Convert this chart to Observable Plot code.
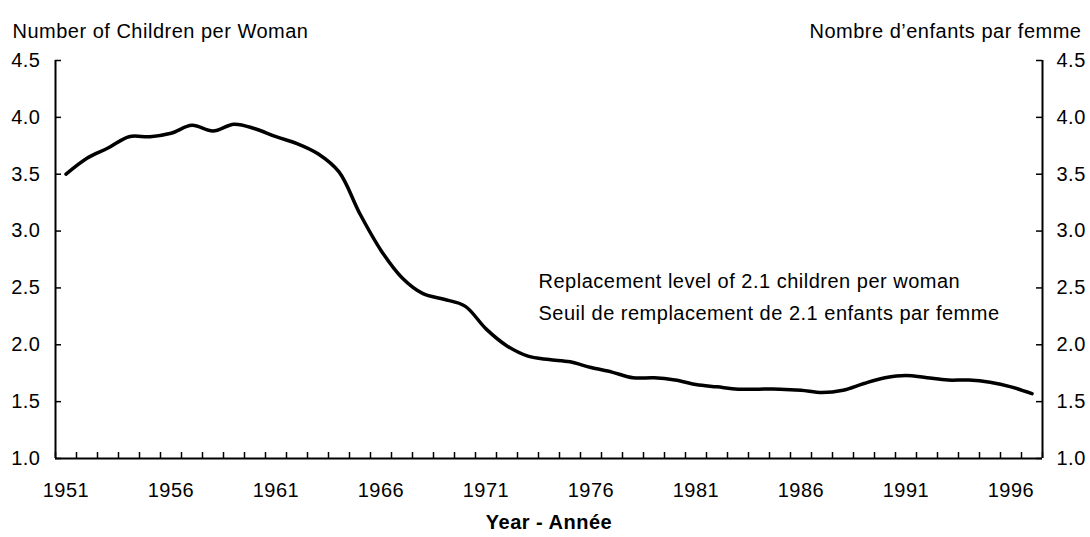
<!DOCTYPE html>
<html><head><meta charset="utf-8">
<script src="https://cdn.jsdelivr.net/npm/d3@7"></script>
<script src="https://cdn.jsdelivr.net/npm/@observablehq/plot@0.6"></script>
<style>
html,body{margin:0;padding:0;background:#fff;}
#chart svg text{letter-spacing:0.5px;}
</style></head><body><div id="chart"></div>
<script>
const years = [1951,1952,1953,1954,1955,1956,1957,1958,1959,1960,
  1961,1962,1963,1964,1965,1966,1967,1968,1969,1970,
  1971,1972,1973,1974,1975,1976,1977,1978,1979,1980,
  1981,1982,1983,1984,1985,1986,1987,1988,1989,1990,
  1991,1992,1993,1994,1995,1996,1997];
const tfr = [3.50,3.64,3.73,3.83,3.83,3.86,3.93,3.88,3.94,3.90,
  3.83,3.77,3.68,3.52,3.15,2.83,2.59,2.45,2.40,2.34,
  2.14,1.99,1.90,1.87,1.85,1.80,1.76,1.71,1.71,1.69,
  1.65,1.63,1.61,1.61,1.61,1.60,1.58,1.60,1.66,1.71,
  1.73,1.71,1.69,1.69,1.67,1.63,1.57];
const yTicks = [1.0,1.5,2.0,2.5,3.0,3.5,4.0,4.5];
const xLabelYears = [1951,1956,1961,1966,1971,1976,1981,1986,1991,1996];
const leftTitle = "Number of Children per Woman";
const rightTitle = "Nombre d’enfants par femme";
const xTitle = "Year - Année";
const noteLines = ["Replacement level of 2.1 children per woman", "Seuil de remplacement de 2.1 enfants par femme"];

const data = years.map((y, i) => ({year: y, value: tfr[i]}));
const xMin = years[0] - 0.5, xMax = years[years.length - 1] + 0.5;
const bounds = d3.range(xMin, xMax + 0.01, 1);

const W = 1090, H = 537, ML = 55, MR = 48, MT = 60, MB = 79;
const FW = W - ML - MR, FH = H - MT - MB, TICK = 6;

const chart = Plot.plot({
  width: W, height: H,
  marginLeft: ML, marginRight: MR, marginTop: MT, marginBottom: MB,
  style: {fontFamily: "'Liberation Sans', Arial, sans-serif", fontSize: "20px", color: "#000", background: "#fff"},
  x: {domain: [xMin, xMax]},
  y: {domain: [1, 4.5]},
  marks: [
    Plot.axisY(yTicks, {anchor: "left", tickSize: 0, tickPadding: 15, tickFormat: d3.format(".1f"), label: null}),
    Plot.axisY(yTicks, {anchor: "right", tickSize: 0, tickPadding: 14, tickFormat: d3.format(".1f"), label: null}),
    Plot.axisX(xLabelYears, {anchor: "bottom", tickSize: 0, tickPadding: 24, tickFormat: d => String(d), label: null}),
    Plot.tickY(yTicks, {y: d => d, insetRight: FW - TICK, stroke: "#000", strokeWidth: 1.5}),
    Plot.tickY(yTicks, {y: d => d, insetLeft: FW - TICK, stroke: "#000", strokeWidth: 1.5}),
    Plot.tickX(bounds, {x: d => d, insetTop: FH - TICK, stroke: "#000", strokeWidth: 1.5}),
    Plot.ruleY([1], {stroke: "#000", strokeWidth: 2}),
    Plot.ruleX([xMin, xMax], {stroke: "#000", strokeWidth: 2}),
    Plot.line(data, {x: "year", y: "value", stroke: "#000", strokeWidth: 3.5, curve: "catmull-rom"}),
    Plot.text([leftTitle], {frameAnchor: "top-left", textAnchor: "start", dx: -43, dy: -37}),
    Plot.text([rightTitle], {frameAnchor: "top-right", textAnchor: "end", dx: 39, dy: -37}),
    Plot.text([xTitle], {frameAnchor: "bottom", dy: 70, fontWeight: "bold", fontSize: 20, style: "letter-spacing:1.5px"}),
    Plot.text([noteLines.join("\n")], {frameAnchor: "top-left", textAnchor: "start", dx: 483, dy: 205, lineHeight: 1.6})
  ]
});
document.getElementById("chart").appendChild(chart);
</script></body></html>
